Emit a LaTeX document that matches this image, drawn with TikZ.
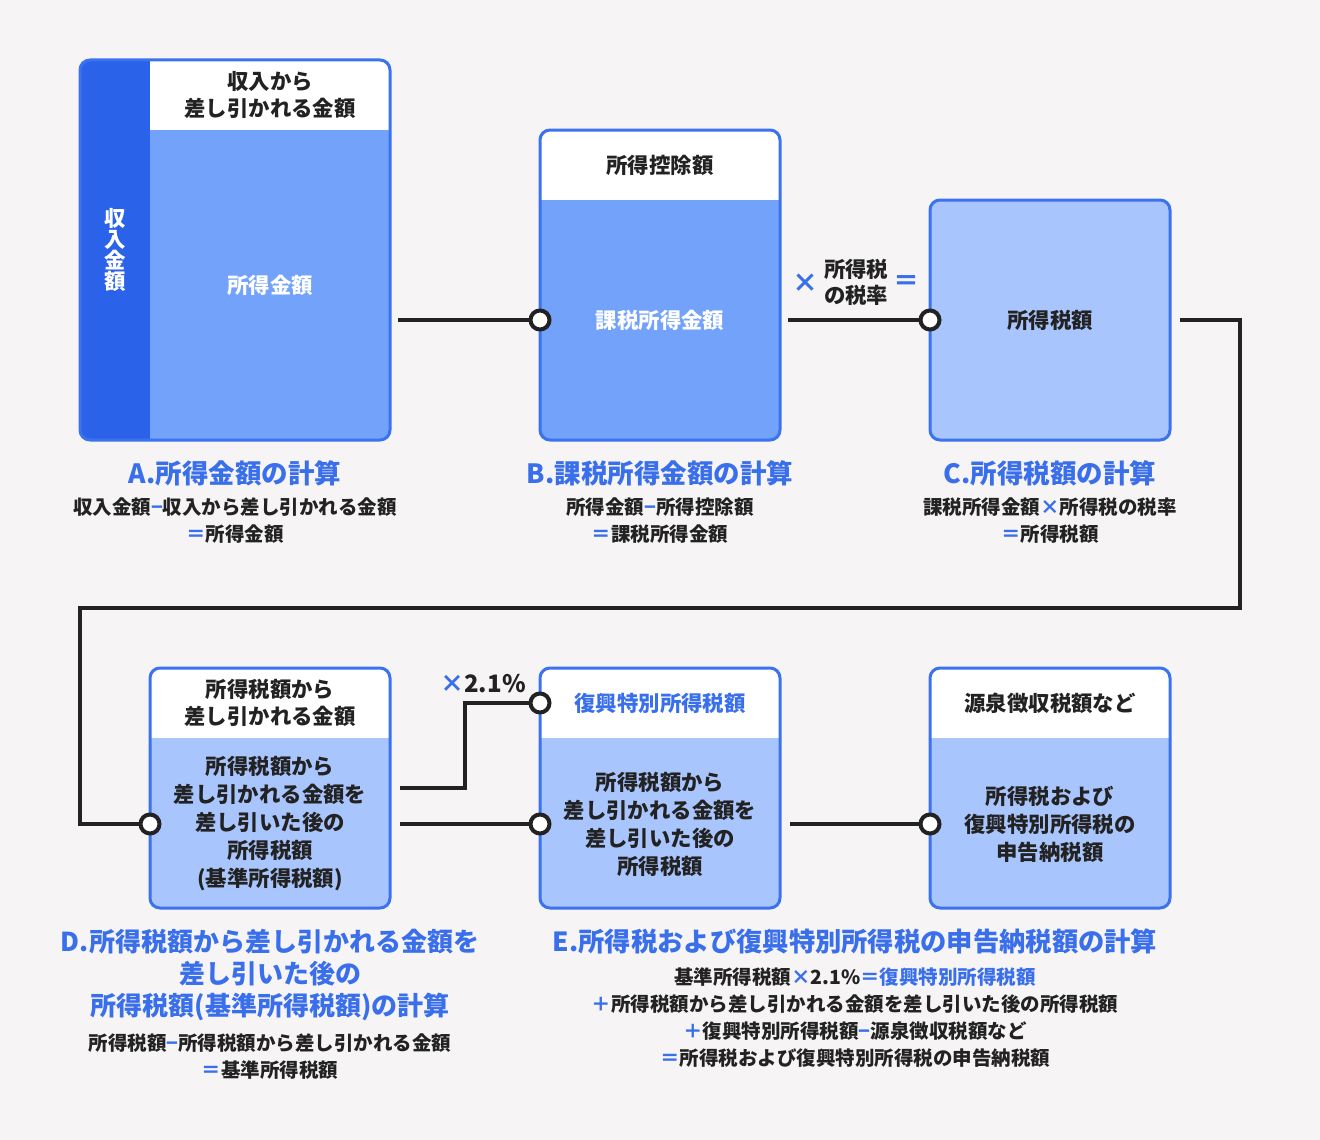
\documentclass[tikz,border=0pt]{standalone}
\usepackage{fontspec}
\setmainfont{Noto Sans CJK JP}
\usetikzlibrary{positioning,calc}
\definecolor{bgcol}{HTML}{F6F4F5}
\definecolor{stripblue}{HTML}{2B62EA}
\definecolor{frameblue}{HTML}{3B72F0}
\definecolor{midblue}{HTML}{72A2FA}
\definecolor{lightblue}{HTML}{A9C5FD}
\definecolor{accent}{HTML}{3A6FEC}
\definecolor{ink}{HTML}{222222}

\begin{document}
\begin{tikzpicture}[x=1pt,y=1pt,
  box/.style={draw=frameblue,line width=3pt,rounded corners=10pt,minimum width=240pt,minimum height=240pt,inner sep=0pt,outer sep=0pt},
  withhead/.style={path picture={\fill[white,sharp corners] (path picture bounding box.north west) rectangle ([yshift=-70pt]path picture bounding box.north east);}},
  withstrip/.style={path picture={\fill[white,sharp corners] ([xshift=70pt]path picture bounding box.north west) rectangle ([yshift=-70pt]path picture bounding box.north east); \fill[stripblue,sharp corners] (path picture bounding box.south west) rectangle ([xshift=70pt]path picture bounding box.north west);}},
  boxtext/.style={font=\bfseries\fontsize{21.4}{27}\selectfont,text=ink,align=center,inner sep=0pt},
  title/.style={font=\bfseries\fontsize{26.5}{32}\selectfont,text=accent,align=center,inner sep=0pt},
  formula/.style={font=\bfseries\fontsize{19.5}{27}\selectfont,text=ink,align=center,inner sep=0pt},
  optext/.style={font=\bfseries\fontsize{26}{26}\selectfont,text=accent,inner sep=0pt},
  port/.style={circle,draw=ink,line width=4pt,fill=white,minimum size=19pt,inner sep=0pt},
  link/.style={draw=ink,line width=4pt}]
\useasboundingbox[fill=bgcol] (0,0) rectangle (1320,-1140);

\node[box,withstrip,fill=midblue,minimum width=310pt,minimum height=380pt] (shotoku) at (235,-250) {};
\node[boxtext] (shotokuHead) at ([xshift=35pt,yshift=-35pt]shotoku.north) {収入から\\差し引かれる金額};
\node[boxtext,text=white] (shotokuBody) at ([xshift=35pt,yshift=-35pt]shotoku.center) {所得金額};
\node[boxtext,text=white,font=\bfseries\fontsize{21.4}{21}\selectfont] (shunyu) at ([xshift=-120pt]shotoku.center) {収\\入\\金\\額};

\node[box,withhead,fill=midblue,minimum height=310pt] (kazei) [right=150pt of shotoku.south east,anchor=south west] {};
\node[boxtext] (kazeiHead) at ([yshift=-35pt]kazei.north) {所得控除額};
\node[boxtext,text=white] (kazeiBody) at ([yshift=-35pt]kazei.center) {課税所得金額};

\node[box,fill=lightblue] (zeigaku) [right=150pt of kazei.south east,anchor=south west] {};
\node[boxtext] (zeigakuBody) at (zeigaku.center) {所得税額};

\node[box,withhead,fill=lightblue] (kijun) at (270,-788) {};
\node[boxtext] (kijunHead) at ([yshift=-35pt]kijun.north) {所得税額から\\差し引かれる金額};
\node[boxtext,font=\bfseries\fontsize{21.4}{28}\selectfont] (kijunBody) at ([yshift=-36pt]kijun.center) {所得税額から\\差し引かれる金額を\\差し引いた後の\\所得税額\\(基準所得税額)};

\node[box,withhead,fill=lightblue] (fukko) [right=150pt of kijun] {};
\node[boxtext,text=accent] (fukkoHead) at ([yshift=-35pt]fukko.north) {復興特別所得税額};
\node[boxtext,font=\bfseries\fontsize{21.4}{28}\selectfont] (fukkoBody) at ([yshift=-36pt]fukko.center) {所得税額から\\差し引かれる金額を\\差し引いた後の\\所得税額};

\node[box,withhead,fill=lightblue] (gensen) [right=150pt of fukko] {};
\node[boxtext] (gensenHead) at ([yshift=-35pt]gensen.north) {源泉徴収税額など};
\node[boxtext,font=\bfseries\fontsize{21.4}{28}\selectfont] (gensenBody) at ([yshift=-36pt]gensen.center) {所得税および\\復興特別所得税の\\申告納税額};

\node[port] (kazeiIn) at ([yshift=-35pt]kazei.west) {};
\node[port] (zeigakuIn) at (zeigaku.west) {};
\node[port] (kijunIn) at ([yshift=-36pt]kijun.west) {};
\node[port] (fukkoUp) at ([yshift=85pt]fukko.west) {};
\node[port] (fukkoIn) at ([yshift=-36pt]fukko.west) {};
\node[port] (gensenIn) at ([yshift=-36pt]gensen.west) {};

\draw[link,shorten <=8pt] (shotoku.east |- kazeiIn) -- (kazeiIn);
\draw[link,shorten <=8pt] (kazei.east |- zeigakuIn) -- node[boxtext,font=\bfseries\fontsize{21.4}{26}\selectfont,above=12pt,pos=0.55] (rate) {所得税\\の税率} (zeigakuIn);
\draw[link,shorten <=10pt] (zeigaku.east) -| (1240,-608) -| ([xshift=-70pt]kijunIn.center) -- (kijunIn);
\draw[link,shorten <=10pt] (kijun.east) -- ++(75,0) |- (fukkoUp);
\draw[link,shorten <=10pt] (kijun.east |- fukkoIn) -- (fukkoIn);
\draw[link,shorten <=10pt] (fukko.east |- gensenIn) -- (gensenIn);

\node[optext] (times) [left=3pt of rate] {×};
\node[optext] (equals) [right=3pt of rate] {＝};
\node[optext,text=ink,font=\bfseries\fontsize{24}{24}\selectfont] (rate21) [above left=2pt and 6pt of fukkoUp] {{\color{accent}×}2.1\%};

\node[title] (shotokuTitle) [below=20pt of shotoku] {A.所得金額の計算};
\node[formula] (shotokuCalc) [below=12pt of shotokuTitle] {収入金額{\color{accent}−}収入から差し引かれる金額\\{\color{accent}＝}所得金額};
\node[title] (kazeiTitle) [below=20pt of kazei] {B.課税所得金額の計算};
\node[formula] (kazeiCalc) [below=12pt of kazeiTitle] {所得金額{\color{accent}−}所得控除額\\{\color{accent}＝}課税所得金額};
\node[title] (zeigakuTitle) [below=20pt of zeigaku] {C.所得税額の計算};
\node[formula] (zeigakuCalc) [below=12pt of zeigakuTitle] {課税所得金額{\color{accent}×}所得税の税率\\{\color{accent}＝}所得税額};
\node[title,font=\bfseries\fontsize{26}{32}\selectfont] (kijunTitle) [below=21pt of kijun] {D.所得税額から差し引かれる金額を\\差し引いた後の\\所得税額(基準所得税額)の計算};
\node[formula] (kijunCalc) [below=12pt of kijunTitle] {所得税額{\color{accent}−}所得税額から差し引かれる金額\\{\color{accent}＝}基準所得税額};
\coordinate (eMid) at ($(fukko.south)!0.5!(gensen.south)$);
\node[title,font=\bfseries\fontsize{26.3}{32}\selectfont] (shinkokuTitle) [below=21pt of eMid] {E.所得税および復興特別所得税の申告納税額の計算};
\node[formula] (shinkokuCalc) [below=13pt of shinkokuTitle] {基準所得税額{\color{accent}×}2.1\%{\color{accent}＝復興特別所得税額}\\{\color{accent}＋}所得税額から差し引かれる金額を差し引いた後の所得税額\\{\color{accent}＋}復興特別所得税額{\color{accent}−}源泉徴収税額など\\{\color{accent}＝}所得税および復興特別所得税の申告納税額};
\end{tikzpicture}
\end{document}
